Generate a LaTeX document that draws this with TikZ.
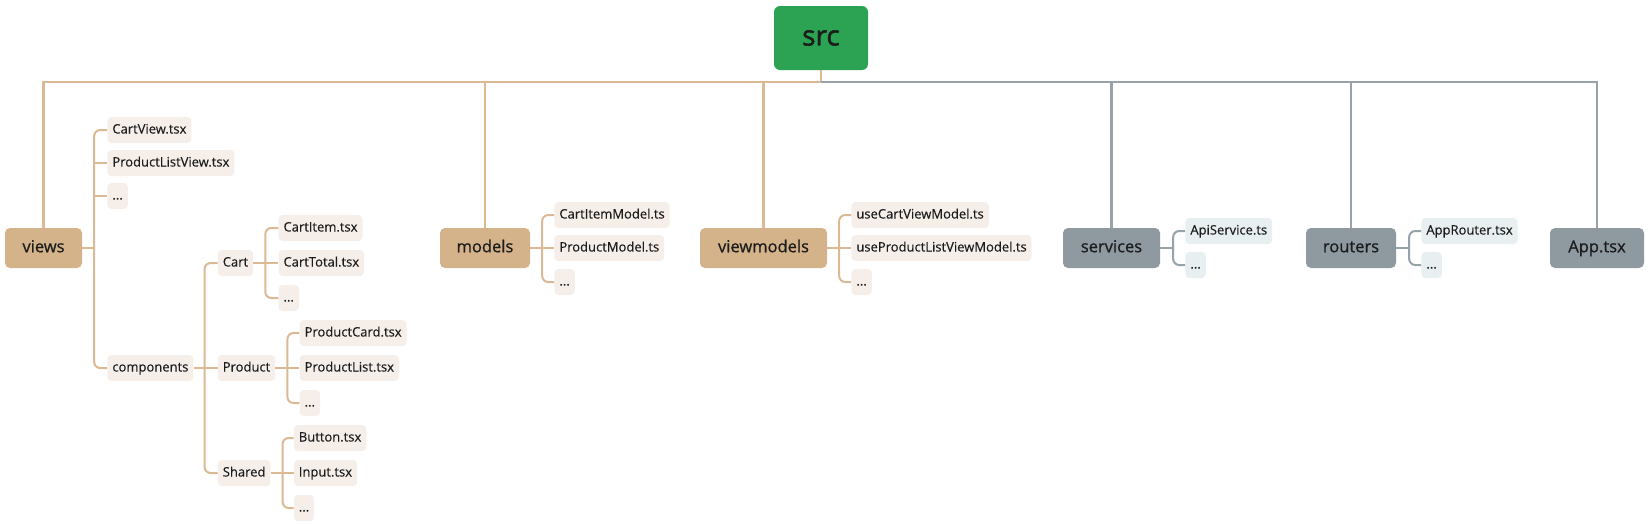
\documentclass[tikz,border=0pt]{standalone}
\usepackage{fontspec}
\setmainfont{Open Sans}
\newfontfamily\boldish[FakeBold=0.8]{Open Sans}
\newfontfamily\leafish[FakeBold=0.3]{Open Sans}
\newfontfamily\srcish[FakeBold=1.6]{Open Sans}
\usetikzlibrary{calc}
\definecolor{srcgreen}{RGB}{43,163,82}
\definecolor{tanbox}{RGB}{212,178,138}
\definecolor{tanln}{RGB}{218,185,148}
\definecolor{tanleaf}{RGB}{246,239,233}
\definecolor{graybox}{RGB}{142,153,160}
\definecolor{grayln}{RGB}{152,162,169}
\definecolor{grayleaf}{RGB}{231,239,240}
\definecolor{txt}{RGB}{28,28,28}
\begin{document}
\begin{tikzpicture}[x=1pt,y=-1pt,
  every node/.style={text=txt},
  big/.style={rounded corners=5pt, minimum height=40pt, inner xsep=0pt,
    font=\boldish\fontsize{16.5}{18}\selectfont, text height=12pt, text depth=3.5pt},
  tbig/.style={big, fill=tanbox},
  gbig/.style={big, fill=graybox},
  leaf/.style={rounded corners=4pt, minimum height=26pt, inner xsep=5pt, inner ysep=0pt,
    font=\leafish\fontsize{13}{15}\selectfont, text height=9.5pt, text depth=2.5pt, anchor=west},
  tleaf/.style={leaf, fill=tanleaf},
  gleaf/.style={leaf, fill=grayleaf},
  tmain/.style={draw=tanln, line width=2.5pt},
  gmain/.style={draw=grayln, line width=2.5pt},
  tl/.style={draw=tanln, line width=2pt, rounded corners=6pt},
  gl/.style={draw=grayln, line width=2pt, rounded corners=6pt}
]
\useasboundingbox (0,0) rectangle (1650,523);

% top level
\node[fill=srcgreen, rounded corners=6pt, minimum width=94pt, minimum height=64pt,
  font=\srcish\fontsize{28}{30}\selectfont] (src) at (821,38) {src};
\coordinate (bj) at (821,82);

\node[tbig, minimum width=77pt] (views) at (43.5,248) {views};
\node[tbig, minimum width=90pt] (models) at (485,248) {models};
\node[tbig, minimum width=127pt] (vm) at (763.5,248) {viewmodels};
\node[gbig, minimum width=97pt] (services) at (1111.5,248) {services};
\node[gbig, minimum width=90pt] (routers) at (1351,248) {routers};
\node[gbig, minimum width=94pt] (app) at (1597,248) {App.tsx};

% bus
\draw[tmain] (src.south) -- (bj);
\draw[tmain] (views.north) |- (bj);
\draw[tmain] (models.north) -- (models.north |- bj);
\draw[tmain] (vm.north) -- (vm.north |- bj);
\draw[gmain] (bj) -| (app.north);
\draw[gmain] (services.north) -- (services.north |- bj);
\draw[gmain] (routers.north) -- (routers.north |- bj);

% views children
\coordinate (vT) at ($(views.east)+(12,0)$);
\node[tleaf] (cartview) at ($(views.east)+(25,-118)$) {CartView.tsx};
\node[tleaf] (plview) at ($(views.east)+(25,-85)$) {ProductListView.tsx};
\node[tleaf] (vdots) at ($(views.east)+(25,-52)$) {...};
\node[tleaf] (comp) at ($(views.east)+(25,120)$) {components};
\draw[tl] (cartview.west) -- (cartview.west -| vT) -- (comp.west -| vT) -- (comp.west);
\draw[tl] (plview.west -| vT) -- (plview.west);
\draw[tl] (vdots.west -| vT) -- (vdots.west);
\draw[tl] (views.east) -- (views.east -| vT);

% components children
\coordinate (cT) at ($(comp.east)+(11,0)$);
\node[tleaf] (cart) at ($(comp.east)+(24,-105)$) {Cart};
\node[tleaf] (product) at ($(comp.east)+(24,0)$) {Product};
\node[tleaf] (shared) at ($(comp.east)+(24,105)$) {Shared};
\draw[tl] (cart.west) -- (cart.west -| cT) -- (shared.west -| cT) -- (shared.west);
\draw[tl] (comp.east) -- (product.west);

% Cart children
\coordinate (caT) at ($(cart.east)+(12,0)$);
\node[tleaf] (cartitem) at ($(cart.east)+(25,-35)$) {CartItem.tsx};
\node[tleaf] (carttotal) at ($(cart.east)+(25,0)$) {CartTotal.tsx};
\node[tleaf] (cadots) at ($(cart.east)+(25,35)$) {...};
\draw[tl] (cartitem.west) -- (cartitem.west -| caT) -- (cadots.west -| caT) -- (cadots.west);
\draw[tl] (cart.east) -- (carttotal.west);

% Product children
\coordinate (prT) at ($(product.east)+(12,0)$);
\node[tleaf] (pcard) at ($(product.east)+(24,-35)$) {ProductCard.tsx};
\node[tleaf] (plist) at ($(product.east)+(24,0)$) {ProductList.tsx};
\node[tleaf] (prdots) at ($(product.east)+(24,35)$) {...};
\draw[tl] (pcard.west) -- (pcard.west -| prT) -- (prdots.west -| prT) -- (prdots.west);
\draw[tl] (product.east) -- (plist.west);

% Shared children
\coordinate (shT) at ($(shared.east)+(12,0)$);
\node[tleaf] (button) at ($(shared.east)+(23,-35)$) {Button.tsx};
\node[tleaf] (input) at ($(shared.east)+(23,0)$) {Input.tsx};
\node[tleaf] (shdots) at ($(shared.east)+(23,35)$) {...};
\draw[tl] (button.west) -- (button.west -| shT) -- (shdots.west -| shT) -- (shdots.west);
\draw[tl] (shared.east) -- (input.west);

% models children
\coordinate (mT) at ($(models.east)+(12,0)$);
\node[tleaf] (cim) at ($(models.east)+(24,-33)$) {CartItemModel.ts};
\node[tleaf] (pm) at ($(models.east)+(24,0)$) {ProductModel.ts};
\node[tleaf] (mdots) at ($(models.east)+(24,34)$) {...};
\draw[tl] (cim.west) -- (cim.west -| mT) -- (mdots.west -| mT) -- (mdots.west);
\draw[tl] (models.east) -- (pm.west);

% viewmodels children
\coordinate (vmT) at ($(vm.east)+(12,0)$);
\node[tleaf] (ucvm) at ($(vm.east)+(24,-33)$) {useCartViewModel.ts};
\node[tleaf] (uplvm) at ($(vm.east)+(24,0)$) {useProductListViewModel.ts};
\node[tleaf] (vmdots) at ($(vm.east)+(24,34)$) {...};
\draw[tl] (ucvm.west) -- (ucvm.west -| vmT) -- (vmdots.west -| vmT) -- (vmdots.west);
\draw[tl] (vm.east) -- (uplvm.west);

% services children
\coordinate (sT) at ($(services.east)+(13,0)$);
\node[gleaf] (api) at ($(services.east)+(25,-17)$) {ApiService.ts};
\node[gleaf] (sdots) at ($(services.east)+(25,17)$) {...};
\draw[gl] (api.west) -- (api.west -| sT) -- (sdots.west -| sT) -- (sdots.west);
\draw[gl] (services.east) -- (services.east -| sT);

% routers children
\coordinate (rT) at ($(routers.east)+(13,0)$);
\node[gleaf] (approuter) at ($(routers.east)+(25,-17)$) {AppRouter.tsx};
\node[gleaf] (rdots) at ($(routers.east)+(25,17)$) {...};
\draw[gl] (approuter.west) -- (approuter.west -| rT) -- (rdots.west -| rT) -- (rdots.west);
\draw[gl] (routers.east) -- (routers.east -| rT);
\end{tikzpicture}
\end{document}
